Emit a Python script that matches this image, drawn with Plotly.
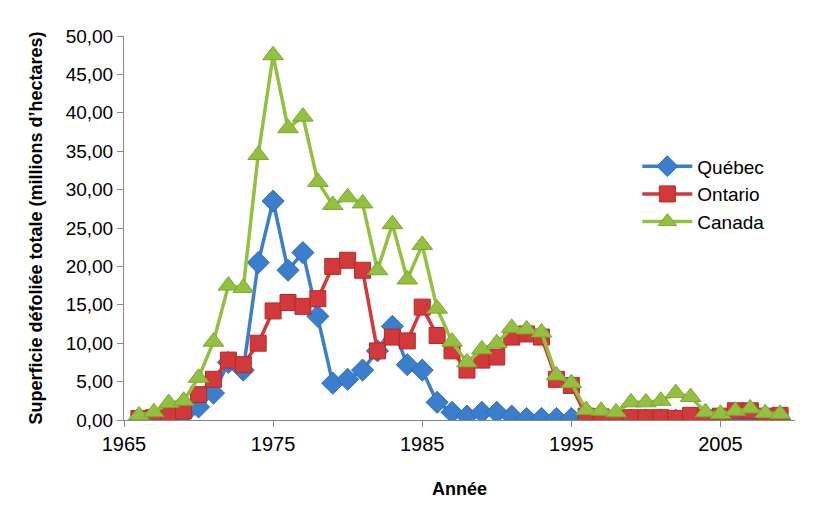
import plotly.graph_objects as go

years = list(range(1966, 2010))

quebec = [0.0, 0.1, 0.3, 0.7, 1.7, 3.5, 7.5, 6.5, 20.5, 28.5, 19.5, 21.8, 13.5, 4.8, 5.3,
          6.5, 9.0, 12.2, 7.2, 6.5, 2.3, 1.0, 0.5, 1.0, 1.0, 0.5, 0.2, 0.2, 0.2, 0.2,
          0.1, 0.0, 0.0, 0.0, 0.0, 0.0, 0.0, 0.1, 0.0, 0.0, 0.1, 0.1, 0.0, 0.0]
ontario = [0.2, 0.3, 0.8, 1.2, 3.3, 5.3, 7.8, 7.2, 10.0, 14.2, 15.3, 14.8, 15.8, 20.0, 20.8,
           19.5, 9.0, 10.8, 10.3, 14.7, 11.0, 9.0, 6.5, 7.8, 8.2, 10.8, 11.2, 10.8, 5.3, 4.5,
           0.5, 0.4, 0.2, 0.3, 0.3, 0.3, 0.2, 0.6, 0.3, 0.5, 1.2, 1.2, 0.5, 0.6]
canada = [0.6, 1.0, 2.2, 2.5, 5.5, 10.2, 17.5, 17.2, 34.5, 47.5, 38.0, 39.5, 31.0, 28.0, 29.0,
          28.2, 19.5, 25.5, 18.3, 22.8, 14.5, 10.2, 7.5, 9.2, 10.0, 12.0, 11.8, 11.4, 5.8, 4.8,
          1.3, 1.2, 1.0, 2.3, 2.3, 2.5, 3.5, 3.0, 1.0, 0.8, 1.2, 1.5, 0.9, 0.8]

x_ticks = [1965, 1975, 1985, 1995, 2005]
y_ticks = [0, 5, 10, 15, 20, 25, 30, 35, 40, 45, 50]

series = [
    ("Québec", quebec, "#3b7fcc", "#2f6db5", "diamond", 17),
    ("Ontario", ontario, "#d2393a", "#b52a2a", "square", 16),
    ("Canada", canada, "#93c13f", "#7aa832", "triangle-up", 18),
]

fig = go.Figure()
for name, vals, col, edge, sym, sz in series:
    fig.add_trace(go.Scatter(
        x=years, y=vals, name=name, mode="lines+markers",
        line=dict(color=col, width=3.5),
        marker=dict(symbol=sym, size=sz, color=col, line=dict(color=edge, width=1)),
    ))

font = "Liberation Sans, Arial, sans-serif"
fig.update_layout(
    width=839, height=518,
    margin=dict(l=124, r=44, t=36, b=98),
    paper_bgcolor="white", plot_bgcolor="white",
    separators=", ",
    font=dict(family=font, size=16, color="black"),
    showlegend=True,
    legend=dict(x=0.765, y=0.71, xanchor="left", yanchor="top",
                font=dict(size=19, family=font), bgcolor="rgba(0,0,0,0)",
                itemwidth=50, tracegroupgap=0),
    xaxis=dict(range=[1965, 2010], tickvals=x_ticks, ticks="outside", ticklen=6,
               tickcolor="#888", showline=True, linecolor="#888", linewidth=1,
               showgrid=False, zeroline=False,
               tickfont=dict(size=20, family="Liberation Sans Narrow, Liberation Sans, Arial"),
               title=dict(text="<b>Année</b>", font=dict(size=18), standoff=28)),
    yaxis=dict(range=[0, 50], tickvals=y_ticks, tickformat=".2f", ticks="outside",
               ticklen=6, tickcolor="#888", showline=True, linecolor="#888",
               linewidth=1, showgrid=False, zeroline=False,
               tickfont=dict(size=19),
               title=dict(text="<b>Superficie défoliée totale (millions d’hectares)</b>",
                          font=dict(size=18), standoff=18)),
)

fig.write_html("out.html")
